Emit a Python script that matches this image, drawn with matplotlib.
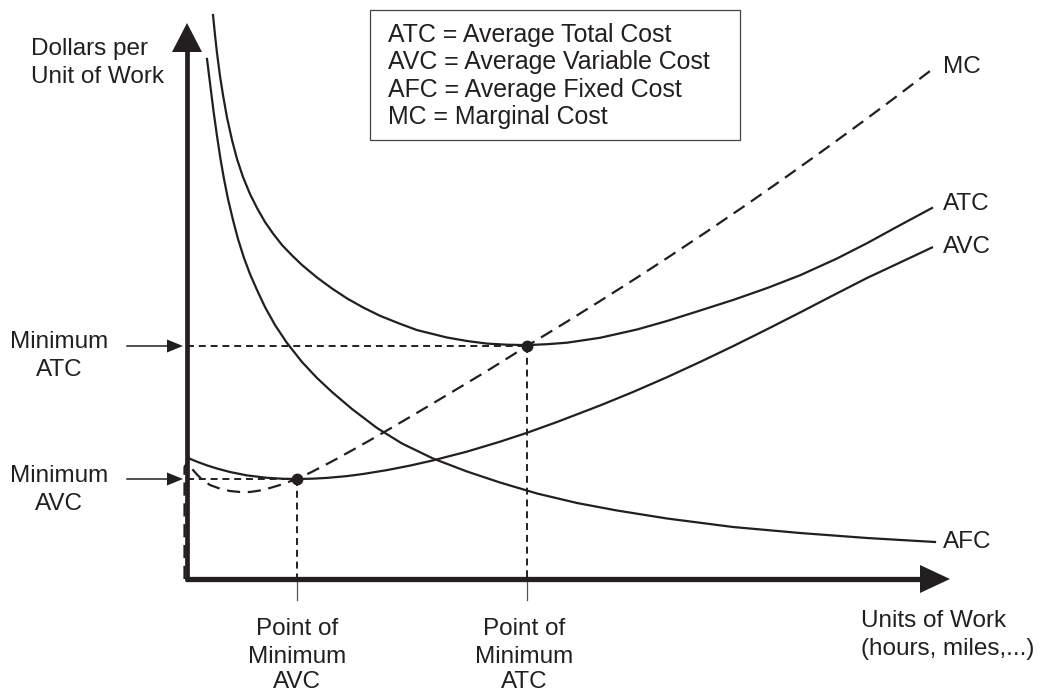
import matplotlib
matplotlib.use("Agg")
import matplotlib.pyplot as plt
from matplotlib.patches import Polygon, Rectangle

plt.rcParams['font.family'] = ['Liberation Sans', 'DejaVu Sans']
plt.rcParams['lines.scale_dashes'] = False

INK = '#231f20'

# ---- data (quantity on x, dollars per unit on y) ----
atc_q = [26, 28, 30, 33, 36, 40, 45, 50, 56, 63, 70, 78, 86, 95, 105, 115, 130, 145, 160, 176,
         193, 212, 230, 260, 280, 300, 320, 340, 360, 380, 413, 450, 480, 510, 546, 580, 613,
         650, 680, 710, 745]
atc_c = [564, 544, 526, 503, 484, 461.5, 439, 420, 402, 385, 371, 357, 345.5, 334, 323.6, 314,
         301.5, 290.5, 280.6, 271.6, 263.2, 255.6, 248.9, 241.5, 238, 235.4, 234.3, 233.9, 234.8,
         236.3, 241.2, 249.5, 258, 267.5, 279, 290.9, 303.7, 320.5, 335.8, 352.2, 371]

afc_q = [20, 23, 26.5, 30, 33.5, 37, 41, 46, 51, 57, 63, 70, 78, 88, 100, 115, 130, 145, 165,
         190, 215, 246, 280, 313, 350, 390, 430, 480, 546, 613, 680, 748]
afc_c = [520, 496, 468, 443, 420, 400, 380, 359, 340, 321, 305, 289, 272, 254, 236, 217, 201,
         187, 170, 151, 135.5, 120.5, 107.5, 96.5, 85.5, 76, 68.5, 60.5, 52, 46, 41, 37]

avc_q = [1, 10, 20, 30, 43, 60, 80, 95, 110, 125, 140, 160, 176, 200, 223, 246, 280, 313, 340,
         370, 413, 446, 480, 513, 546, 580, 613, 646, 680, 712, 745]
avc_c = [121, 117.3, 113.6, 110.5, 107, 103.6, 101.2, 100.3, 100, 100.3, 101.1, 102.9, 105,
         108.9, 113.4, 118.6, 127.4, 137.3, 146.2, 157, 173.5, 187, 201.8, 217, 232.8, 249.7,
         266.5, 283.6, 301, 316, 331.5]

mc_q = [-2.5, -2.5, 0, 3, 6, 10, 15, 23, 33, 43, 53, 63, 73, 83, 93, 103, 110, 125, 145, 170,
        193, 225, 260, 300, 340, 380, 413, 450, 480, 520, 560, 600, 640, 680, 710, 745]
mc_c = [0, 112, 116, 113, 109, 104.5, 99.5, 94, 90.3, 88, 87, 87, 88.5, 91, 94, 97.6, 100,
        107.2, 117.6, 131.4, 144.5, 163.2, 184, 208, 233, 257.4, 277.9, 301.4, 320.9, 347.5,
        374.7, 402.7, 431.3, 460.5, 482.9, 509.5]

min_avc = (110, 100)
min_atc = (340, 233)

legend_lines = ["ATC = Average Total Cost", "AVC = Average Variable Cost",
                "AFC = Average Fixed Cost", "MC = Marginal Cost"]
curve_labels = ["MC", "ATC", "AVC", "AFC"]
curve_label_y = [506, 369, 326, 31]
y_title = ["Dollars per", "Unit of Work"]
x_title = ["Units of Work", "(hours, miles,...)"]

# ---- figure ----
fig = plt.figure(figsize=(10.4, 6.91), dpi=100)
ax = fig.add_axes([0, 0, 1, 1])
ax.set_xlim(-187, 853)
ax.set_ylim(-112, 579)
ax.axis('off')

fs = 17.5
fs_leg = 17.9

# axes with arrowheads
ax.plot([0, 0], [-1, 528], color=INK, lw=3.4, solid_capstyle='butt', zorder=4)
ax.add_patch(Polygon([[-15, 527], [15, 527], [0, 556]], closed=True, color=INK, lw=0, zorder=4))
ax.plot([-2, 734], [0, 0], color=INK, lw=3.8, solid_capstyle='butt', zorder=4)
ax.add_patch(Polygon([[733, 14], [733, -14], [763, 0]], closed=True, color=INK, lw=0, zorder=4))

# curves
ax.plot(atc_q, atc_c, color=INK, lw=1.6, zorder=3)
ax.plot(afc_q, afc_c, color=INK, lw=1.6, zorder=3)
ax.plot(avc_q, avc_c, color=INK, lw=1.6, zorder=3)
ax.plot(mc_q, mc_c, color=INK, lw=1.6, dashes=(9.5, 5.5), zorder=3)

# guide lines to minima
for (q, c) in (min_avc, min_atc):
    ax.plot([0, q], [c, c], color=INK, lw=1.4, dashes=(5, 3.5), zorder=2)
    ax.plot([q, q], [c, 0], color=INK, lw=1.4, dashes=(5, 3.5), zorder=2)
    ax.plot([q, q], [-3, -21], color='#555555', lw=0.9, zorder=2)
    ax.plot([q], [c], 'o', color=INK, ms=7.5, zorder=5)

# left arrows marking the minimum values
for c in (min_atc[1], min_avc[1]):
    ax.plot([-60, -18], [c, c], color=INK, lw=1.1, zorder=3)
    ax.add_patch(Polygon([[-20, c + 6.5], [-20, c - 6.5], [-4, c]], closed=True, color=INK, lw=0, zorder=3))

# left labels
ax.text(-128, 231, "Minimum", fontsize=fs, color=INK, ha='center', va='baseline')
ax.text(-128, 203, "ATC", fontsize=fs, color=INK, ha='center', va='baseline')
ax.text(-128, 97, "Minimum", fontsize=fs, color=INK, ha='center', va='baseline')
ax.text(-128, 69, "AVC", fontsize=fs, color=INK, ha='center', va='baseline')

# y title
ax.text(-156, 524, y_title[0], fontsize=fs, color=INK, ha='left', va='baseline')
ax.text(-156, 496, y_title[1], fontsize=fs, color=INK, ha='left', va='baseline')

# x title
ax.text(674, -48, x_title[0], fontsize=fs, color=INK, ha='left', va='baseline')
ax.text(674, -76, x_title[1], fontsize=fs, color=INK, ha='left', va='baseline')

# point labels
for q, name in ((min_avc[0], "AVC"), (min_atc[0] - 3, "ATC")):
    ax.text(q, -56, "Point of", fontsize=fs, color=INK, ha='center', va='baseline')
    ax.text(q, -84, "Minimum", fontsize=fs, color=INK, ha='center', va='baseline')
    ax.text(q, -108.5, name, fontsize=fs, color=INK, ha='center', va='baseline')

# curve labels
for name, y in zip(curve_labels, curve_label_y):
    ax.text(756, y, name, fontsize=fs, color=INK, ha='left', va='baseline')

# legend box
ax.add_patch(Rectangle((183, 439), 370, 130, fill=False, edgecolor='#444444', lw=0.9, zorder=2))
for i, line in enumerate(legend_lines):
    ax.text(201, 537 - i * 27.3, line, fontsize=fs_leg, color=INK, ha='left', va='baseline')

fig.savefig("out.png", dpi=100)
